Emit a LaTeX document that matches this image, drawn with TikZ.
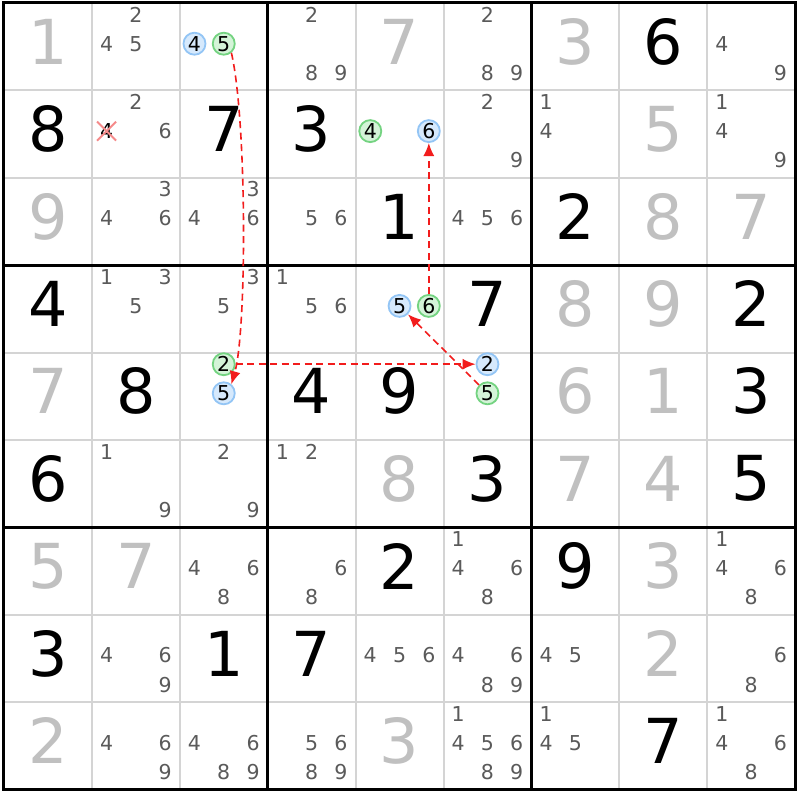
\documentclass[tikz,border=0pt]{standalone}
\usepackage{fontspec}
\setmainfont{DejaVu Sans}
\usepackage{tikz}
\usetikzlibrary{arrows.meta,shapes.misc}
\definecolor{candgray}{HTML}{5A5A5A}
\definecolor{solvedgray}{HTML}{C0C0C0}
\definecolor{gridgray}{HTML}{D4D4D4}
\definecolor{bluefill}{HTML}{D6E9FC}
\definecolor{bluering}{HTML}{93C5F5}
\definecolor{greenfill}{HTML}{D4F4D8}
\definecolor{greenring}{HTML}{74D381}
\definecolor{linkred}{HTML}{F21C1C}
\definecolor{crossred}{HTML}{F58A8A}

\begin{document}
\begin{tikzpicture}[x=87.9pt,y=-87.4pt,
  given/.style={inner sep=0pt,text=black,font=\fontsize{62}{62}\selectfont,yshift=5pt},
  solved/.style={given,text=solvedgray},
  cand/.style={inner sep=0pt,text=candgray,font=\fontsize{20.5}{20.5}\selectfont,yshift=3pt},
  oncand/.style={cand,circle,minimum size=22pt,line width=1.8pt,text=black,draw=bluering,fill=bluefill},
  offcand/.style={oncand,draw=greenring,fill=greenfill},
  link/.style={color=linkred,line width=1.6pt,dash pattern=on 7pt off 4.5pt,-{Latex[length=13pt,width=11pt]}}]

\useasboundingbox (-0.0455,-0.0343) rectangle (9.0557,9.119);
\fill[white] (-0.0455,-0.0343) rectangle (9.0557,9.119);

% grid
\foreach \i in {1,2,4,5,7,8}
  \draw[gridgray,line width=2pt] (\i,0) -- (\i,9) (0,\i) -- (9,\i);
\foreach \i in {3,6}
  \draw[black,line width=3pt] (\i,0) -- (\i,9) (0,\i) -- (9,\i);
\draw[black,line width=3pt] (0,0) rectangle (9,9);

% givens and solved cells
\foreach \c/\r/\d in {8/1/6, 1/2/8, 3/2/7, 4/2/3, 5/3/1, 7/3/2, 1/4/4, 6/4/7, 9/4/2,
    2/5/8, 4/5/4, 5/5/9, 9/5/3, 1/6/6, 6/6/3, 9/6/5, 5/7/2, 7/7/9,
    1/8/3, 3/8/1, 4/8/7, 8/9/7}
  \node[given] (g-\c-\r) at (\c-0.5,\r-0.5) {\d};
\foreach \c/\r/\d in {1/1/1, 5/1/7, 7/1/3, 8/2/5, 1/3/9, 8/3/8, 9/3/7, 7/4/8, 8/4/9,
    1/5/7, 7/5/6, 8/5/1, 5/6/8, 7/6/7, 8/6/4, 1/7/5, 2/7/7, 8/7/3,
    8/8/2, 1/9/2, 5/9/3}
  \node[solved] (s-\c-\r) at (\c-0.5,\r-0.5) {\d};

% pencil marks
\foreach \c/\r/\ds in {2/1/{2,4,5}, 4/1/{2,8,9}, 6/1/{2,8,9}, 9/1/{4,9},
    2/2/{2,6}, 6/2/{2,9}, 7/2/{1,4}, 9/2/{1,4,9},
    2/3/{3,4,6}, 3/3/{3,4,6}, 4/3/{5,6}, 6/3/{4,5,6},
    2/4/{1,3,5}, 3/4/{3,5}, 4/4/{1,5,6},
    2/6/{1,9}, 3/6/{2,9}, 4/6/{1,2},
    3/7/{4,6,8}, 4/7/{6,8}, 6/7/{1,4,6,8}, 9/7/{1,4,6,8},
    2/8/{4,6,9}, 5/8/{4,5,6}, 6/8/{4,6,8,9}, 7/8/{4,5}, 9/8/{6,8},
    2/9/{4,6,9}, 3/9/{4,6,8,9}, 4/9/{5,6,8,9}, 6/9/{1,4,5,6,8,9}, 7/9/{1,4,5}, 9/9/{1,4,6,8}}
  \foreach \d in \ds
    \node[cand] (c-\c-\r-\d) at ({\c-1+(mod(\d-1,3)+0.5)/3},{\r-1+(int((\d-1)/3)+0.5)/3}) {\d};

% eliminated candidate
\node[cand,text=black] (c-2-2-4) at (1.167,1.5) {4};
\node[cross out,draw=crossred,line width=2pt,minimum size=17pt,inner sep=0pt] (x-2-2-4) at (c-2-2-4) {};

% chain cells
\node[oncand] (r1c3n4) at (2.167,0.5) {4};
\node[offcand] (r1c3n5) at (2.5,0.5) {5};
\node[offcand] (r2c5n4) at (4.167,1.5) {4};
\node[oncand] (r2c5n6) at (4.833,1.5) {6};
\node[oncand] (r4c5n5) at (4.5,3.5) {5};
\node[offcand] (r4c5n6) at (4.833,3.5) {6};
\node[offcand] (r5c3n2) at (2.5,4.167) {2};
\node[oncand] (r5c3n5) at (2.5,4.5) {5};
\node[oncand] (r5c6n2) at (5.5,4.167) {2};
\node[offcand] (r5c6n5) at (5.5,4.5) {5};

% links
\draw[link] (r1c3n5.-50) .. controls (2.764,1.339) and (2.764,3.741) .. (r5c3n5.50);
\draw[link] (r5c3n2) -- (r5c6n2);
\draw[link] (r5c6n5) -- (r4c5n5);
\draw[link] (r4c5n6) -- (r2c5n6);
\end{tikzpicture}
\end{document}
